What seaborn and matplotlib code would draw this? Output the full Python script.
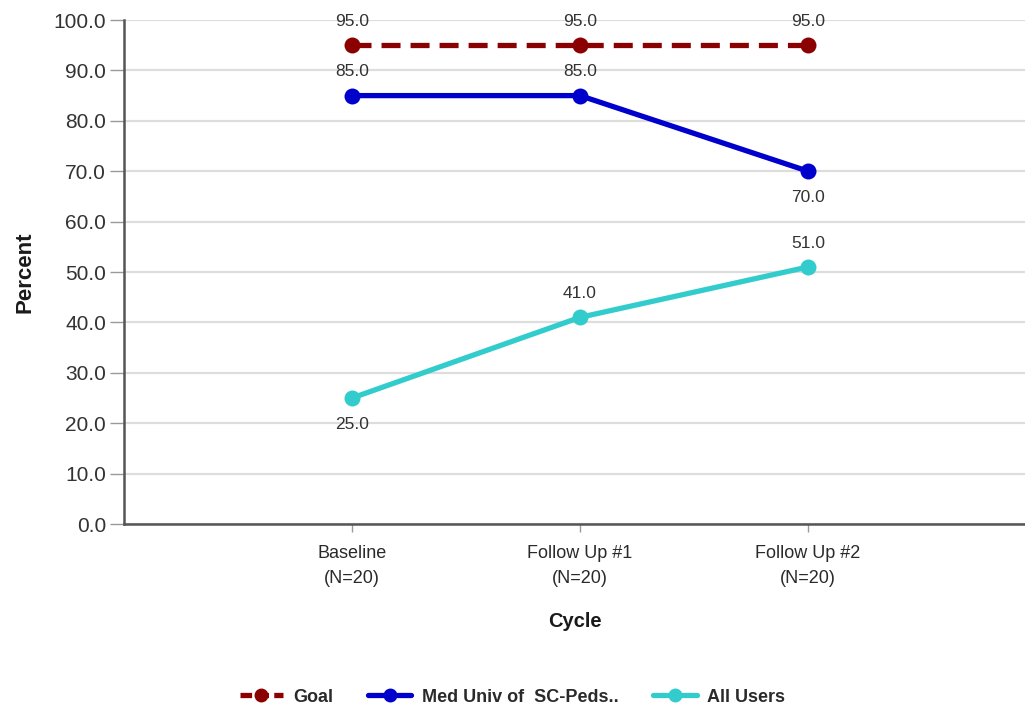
import matplotlib
matplotlib.use("Agg")
import matplotlib.pyplot as plt
from matplotlib.lines import Line2D
import seaborn as sns
import pandas as pd

# Data
cycles = ["Baseline\n(N=20)", "Follow Up #1\n(N=20)", "Follow Up #2\n(N=20)"]
series_names = ["Goal", "Med Univ of  SC-Peds..", "All Users"]
goal = [95.0, 95.0, 95.0]
med_univ = [85.0, 85.0, 70.0]
all_users = [25.0, 41.0, 51.0]
y_ticks = [0, 10, 20, 30, 40, 50, 60, 70, 80, 90, 100]

colors = {"Goal": "#8b0000", "Med Univ of  SC-Peds..": "#0000cc", "All Users": "#33cccc"}
dashes = {"Goal": (3.6, 1.9), "Med Univ of  SC-Peds..": "", "All Users": ""}
# label placement per series point: +1 above the marker, -1 below
label_side = {
    "Goal": [1, 1, 1],
    "Med Univ of  SC-Peds..": [1, 1, -1],
    "All Users": [-1, 1, 1],
}

sns.set_theme(style="white")
plt.rcParams["font.family"] = ["Liberation Sans", "DejaVu Sans"]

rows = []
for name, vals in zip(series_names, [goal, med_univ, all_users]):
    for i, v in enumerate(vals):
        rows.append({"pos": i, "value": v, "series": name})
df = pd.DataFrame(rows)

fig = plt.figure(figsize=(10.25, 7.09), dpi=100)
ax = fig.add_axes([124 / 1025, 1 - 524 / 709, 1 - 124 / 1025, (524 - 20) / 709])

sns.lineplot(
    data=df, x="pos", y="value", hue="series", style="series",
    palette=colors, dashes=dashes, markers={k: "o" for k in series_names},
    markersize=11.5, markeredgewidth=0, linewidth=3.8, ax=ax, legend=False,
    hue_order=series_names, style_order=series_names,
)

for name in series_names:
    sub = df[df.series == name].reset_index(drop=True)
    for (_, r), side in zip(sub.iterrows(), label_side[name]):
        ax.annotate(f"{r.value:.1f}", (r.pos, r.value),
                    xytext=(0, 17 * side if side > 0 else -19),
                    textcoords="offset points", ha="center", va="center",
                    fontsize=12.5, color="#333333")

ax.set_xlim(-1, (1025 - 124) / 228 - 1)
ax.set_ylim(0, 100)
ax.set_yticks(y_ticks)
ax.set_yticklabels([f"{t:.1f}" for t in y_ticks], fontsize=15, color="#333333")
ax.set_xticks(range(len(cycles)))
ax.set_xticklabels(cycles, fontsize=13, color="#2a2a2a", linespacing=1.65)
ax.yaxis.grid(True, color="#dddddd", linewidth=1.6)
ax.set_axisbelow(True)

for s in ["top", "right"]:
    ax.spines[s].set_visible(False)
for s in ["left", "bottom"]:
    ax.spines[s].set_color("#555555")
    ax.spines[s].set_linewidth(1.8)

ax.tick_params(axis="y", length=10, width=1, color="#999999", left=True, pad=3)
ax.tick_params(axis="x", length=6, width=1, color="#999999", bottom=True, pad=9)

ax.set_xlabel("Cycle", fontsize=14.5, fontweight="bold", labelpad=18, color="#1a1a1a")
ax.set_ylabel("Percent", fontsize=16, fontweight="bold", labelpad=13, color="#1a1a1a")

handles = [
    Line2D([0], [0], color=colors[n], linewidth=3.8, marker="o", markersize=9,
           linestyle="--" if n == "Goal" else "-",
           dashes=(2.2, 1.0) if n == "Goal" else (None, None))
    for n in series_names
]
fig.legend(handles, series_names, loc="center", bbox_to_anchor=(0.5, 1 - 697 / 709),
           ncol=3, frameon=False, handlelength=2.4, handletextpad=0.6,
           columnspacing=1.9,
           prop={"weight": "bold", "size": 13})
for t in fig.legends[0].get_texts():
    t.set_color("#2a2a2a")

fig.savefig("out.png", dpi=100, facecolor="white")
